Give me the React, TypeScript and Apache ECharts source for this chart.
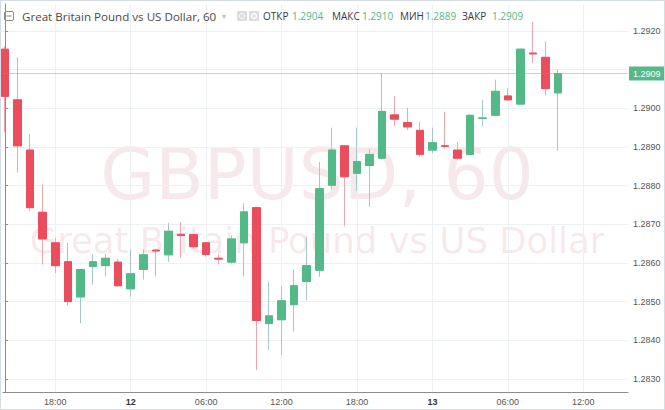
import React, { useEffect, useRef } from 'react';
import * as echarts from 'echarts';

// hourly GBPUSD candles, 14:00 (day 11) .. 10:00 (day 13)
const opens = [
  1.29153, 1.29022, 1.28892, 1.28731, 1.28652, 1.28603, 1.28512, 1.28591, 1.28593, 1.28602,
  1.28533, 1.28583, 1.28633, 1.28621, 1.28674, 1.28673, 1.28652, 1.28612, 1.28602, 1.28652,
  1.28743, 1.28443, 1.28453, 1.28492, 1.28552, 1.28581, 1.28801, 1.28903, 1.28832, 1.28852,
  1.28871, 1.28983, 1.28963, 1.28943, 1.28892, 1.28903, 1.28892, 1.28881, 1.28974, 1.28982,
  1.29032, 1.29011, 1.29143, 1.29132, 1.29040,
];
const closes = [
  1.29031, 1.28903, 1.28743, 1.28662, 1.28593, 1.28500, 1.28583, 1.28603, 1.28612, 1.28541,
  1.28572, 1.28621, 1.28631, 1.28682, 1.28671, 1.28642, 1.28622, 1.28610, 1.28662, 1.28732,
  1.28451, 1.28463, 1.28502, 1.28541, 1.28593, 1.28792, 1.28892, 1.28823, 1.28862, 1.28881,
  1.28992, 1.28972, 1.28952, 1.28881, 1.28911, 1.28902, 1.28871, 1.28982, 1.28975, 1.29044,
  1.29022, 1.29153, 1.29141, 1.29051, 1.29090,
];
const lows = [
  1.28938, 1.28834, 1.28735, 1.28596, 1.28574, 1.28490, 1.28444, 1.28544, 1.28565, 1.28538,
  1.28513, 1.28557, 1.28565, 1.28603, 1.28612, 1.28638, 1.28616, 1.28596, 1.28598, 1.28565,
  1.28323, 1.28375, 1.28362, 1.28423, 1.28503, 1.28564, 1.28790, 1.28695, 1.28786, 1.28745,
  1.28868, 1.28954, 1.28944, 1.28875, 1.28884, 1.28896, 1.28868, 1.28879, 1.28953, 1.28980,
  1.29020, 1.29010, 1.29117, 1.29034, 1.28890,
];
const highs = [
  1.29160, 1.29132, 1.28933, 1.28803, 1.28665, 1.28652, 1.28585, 1.28622, 1.28623, 1.28610,
  1.28635, 1.28635, 1.28636, 1.28704, 1.28705, 1.28676, 1.28655, 1.28622, 1.28671, 1.28754,
  1.28745, 1.28552, 1.28539, 1.28583, 1.28668, 1.28861, 1.28950, 1.28905, 1.28950, 1.28894,
  1.29091, 1.29032, 1.29002, 1.28965, 1.28950, 1.28991, 1.28913, 1.28984, 1.29022, 1.29074,
  1.29052, 1.29155, 1.29224, 1.29173, 1.29100,
];

// x labels (candle index -> text), day labels are bold
const xTickIdx = [4, 10, 16, 22, 28, 34, 40, 46];
const xTickText = ['18:00', '12', '06:00', '12:00', '18:00', '13', '06:00', '12:00'];
const dayTicks = ['12', '13'];

const yTicks = [1.283, 1.284, 1.285, 1.286, 1.287, 1.288, 1.289, 1.29, 1.291, 1.292];
// 1.2910 sits under the last-price box
const yLabels = [1.283, 1.284, 1.285, 1.286, 1.287, 1.288, 1.289, 1.29, 1.292];

const lastPrice = 1.2909;
const statLabels = ['ОТКР', 'МАКС', 'МИН', 'ЗАКР'];
const statValues = ['1.2904', '1.2910', '1.2889', '1.2909'];

const UP = '#53b987';
const DOWN = '#eb4d5c';

function App() {
  const chartRef = useRef<HTMLDivElement>(null);

  useEffect(() => {
    if (!chartRef.current) return;
    const chart = echarts.init(chartRef.current, null, { renderer: 'svg' });

    const bodies = opens.map((o, i) => [i, o, closes[i], Math.min(o, closes[i]), Math.max(o, closes[i])]);
    const wicks = opens.map((o, i) => [i, o, closes[i], lows[i], highs[i]]);

    // header, drawn over the plot like the original
    const labelX = [262, 331, 399, 461];
    const valueX = [291, 361, 424, 491];
    const header: any[] = [
      {
        type: 'rect', shape: { x: 3.5, y: 10.5, width: 9, height: 9, r: 1.5 },
        style: { fill: 'none', stroke: '#8a8a8a', lineWidth: 1 }, z: 100,
      },
      { type: 'line', shape: { x1: 5.5, y1: 15, x2: 10.5, y2: 15 }, style: { stroke: '#8a8a8a', lineWidth: 1 }, z: 100 },
      {
        type: 'text', x: 21, y: 15, z: 100,
        style: { text: 'Great Britain Pound vs US Dollar, 60', font: '11.6px "Open Sans"', fill: '#4a4a4a', verticalAlign: 'middle' },
      },
      { type: 'text', x: 221, y: 15, z: 100, style: { text: '▾', font: '8px "DejaVu Sans"', fill: '#bdbdbd', verticalAlign: 'middle' } },
      { type: 'rect', shape: { x: 236, y: 10, width: 10, height: 10, r: 1 }, style: { fill: '#dcdcdc' }, z: 100 },
      { type: 'circle', shape: { cx: 241, cy: 15, r: 2.5 }, style: { fill: 'none', stroke: '#fff', lineWidth: 1 }, z: 100 },
      { type: 'rect', shape: { x: 248, y: 10, width: 10, height: 10, r: 1 }, style: { fill: '#dcdcdc' }, z: 100 },
      { type: 'circle', shape: { cx: 253, cy: 15, r: 2.5 }, style: { fill: 'none', stroke: '#fff', lineWidth: 1.5 }, z: 100 },
    ];
    statLabels.forEach((l, i) => {
      header.push({
        type: 'text', x: labelX[i], y: 15, z: 100,
        style: { text: l, font: '10px "Open Sans"', fill: '#3a3a3a', verticalAlign: 'middle' },
      });
      header.push({
        type: 'text', x: valueX[i], y: 15, z: 100,
        style: { text: statValues[i], font: '10px "Open Sans"', fill: UP, verticalAlign: 'middle' },
      });
    });

    const watermark = [
      {
        type: 'text', x: 316, y: 173, z: 0, silent: true,
        style: {
          text: 'GBPUSD, 60', font: '71px "DejaVu Sans"', lineHeight: 60,
          fill: 'rgba(205,120,128,0.16)', align: 'center', verticalAlign: 'middle',
        },
      },
      {
        type: 'text', x: 316, y: 239, z: 0, silent: true,
        style: {
          text: 'Great Britain Pound vs US Dollar', font: '35.5px "DejaVu Sans"', lineHeight: 34,
          fill: 'rgba(205,120,128,0.16)', align: 'center', verticalAlign: 'middle',
        },
      },
    ];

    chart.setOption({
      animation: false,
      backgroundColor: '#ffffff',
      grid: { left: 2, right: 36, top: 3, bottom: 17 },
      graphic: [...watermark, ...header],
      xAxis: {
        type: 'value',
        min: -0.16,
        max: 49.56,
        axisLine: { show: true, lineStyle: { color: '#8d8d8d' } },
        axisTick: { show: false, customValues: xTickIdx },
        axisLabel: {
          customValues: xTickIdx,
          fontFamily: 'Liberation Sans',
          fontSize: 9,
          color: '#555',
          margin: 5,
          formatter: (v: number) => {
            const t = xTickText[xTickIdx.indexOf(Math.round(v))] ?? '';
            return dayTicks.includes(t) ? `{b|${t}}` : t;
          },
          rich: { b: { fontWeight: 'bold', fontSize: 9, color: '#333', fontFamily: 'Liberation Sans' } },
        },
        splitLine: { show: true, lineStyle: { color: '#eef1f4', width: 1 } },
      },
      yAxis: {
        type: 'value',
        position: 'right',
        min: 1.28266,
        max: 1.2927,
        axisLine: { show: true, lineStyle: { color: '#8d8d8d' } },
        axisTick: { show: true, length: 3, customValues: yTicks, lineStyle: { color: '#8d8d8d' } },
        axisLabel: {
          customValues: yLabels,
          fontFamily: 'Liberation Sans',
          fontSize: 9,
          color: '#555',
          margin: 5,
          formatter: (v: number) => v.toFixed(4),
        },
        splitLine: { show: true, lineStyle: { color: '#eef1f4', width: 1 } },
      },
      series: [
        {
          type: 'candlestick',
          name: 'wicks',
          data: wicks,
          barWidth: 8,
          z: 2,
          itemStyle: {
            color: 'rgba(0,0,0,0)',
            color0: 'rgba(0,0,0,0)',
            borderColor: '#a5c8cc',
            borderColor0: '#f2a5ad',
            borderColorDoji: '#a5c8cc',
            borderWidth: 1,
          },
        },
        {
          type: 'candlestick',
          name: 'GBPUSD',
          data: bodies,
          barWidth: 8,
          z: 3,
          itemStyle: {
            color: UP,
            color0: DOWN,
            borderColor: UP,
            borderColor0: DOWN,
            borderColorDoji: UP,
            borderWidth: 1,
          },
          markLine: {
            silent: true,
            symbol: 'none',
            precision: 4,
            data: [{ yAxis: lastPrice }],
            lineStyle: { color: 'rgba(83,185,135,0.45)', width: 1, type: 'solid' },
            label: {
              position: 'end',
              distance: 1,
              formatter: lastPrice.toFixed(4),
              color: '#fff',
              backgroundColor: UP,
              fontFamily: 'Liberation Sans',
              fontSize: 9,
              padding: [3, 4, 2, 4],
            },
          },
        },
      ],
    });

    return () => chart.dispose();
  }, []);

  return (
    <div
      style={{
        position: 'fixed',
        left: 0,
        top: 0,
        width: 665,
        height: 410,
        boxSizing: 'border-box',
        border: '1px solid #d7dde5',
        background: '#fff',
      }}
    >
      <div ref={chartRef} style={{ width: 663, height: 408 }} />
    </div>
  );
}

export default App;
